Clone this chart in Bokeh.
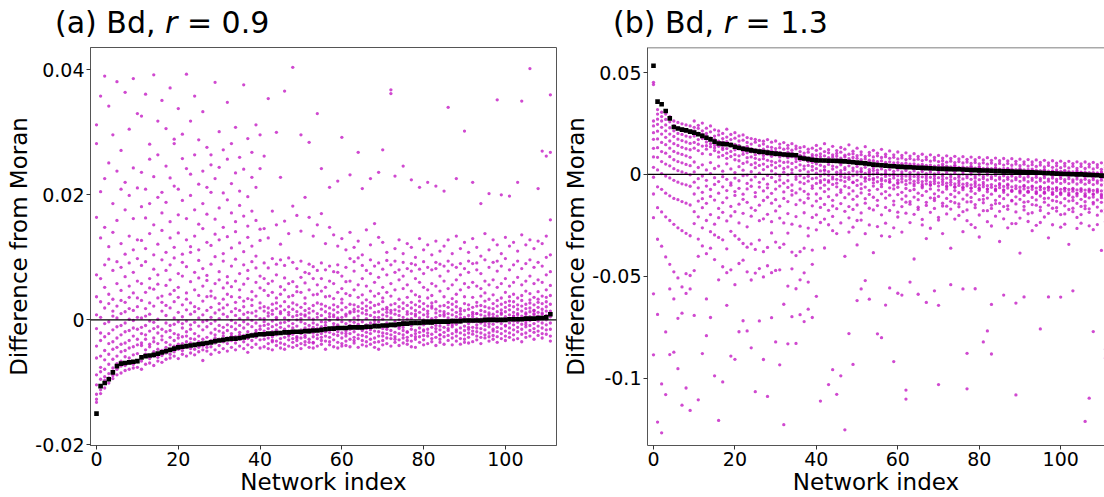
from bokeh.plotting import figure
from bokeh.layouts import row, column
from bokeh.models import ColumnDataSource, FixedTicker, Span, Range1d, Div
from bokeh.embed import file_html
from bokeh.resources import INLINE

FONT = "DejaVu Sans"
UNIT = 1e-4  # all values below are in units of 1e-4

network_ticks = [0, 20, 40, 60, 80, 100]
yticks_a = [-0.02, 0, 0.02, 0.04]
ylabels_a = ["-0.02", "0", "0.02", "0.04"]
yticks_b = [-0.1, -0.05, 0, 0.05]
ylabels_b = ["-0.1", "-0.05", "0", "0.05"]

# black squares: panel (a), r = 0.9
mean_a = [-150, -106, -101, -95, -84, -74, -70, -69, -68, -67, -66, -60, -58, -57, -56, -54,
          -52, -50, -48, -46, -44, -43, -42, -41, -40, -39, -38, -37, -36, -34, -33, -32,
          -31, -30, -30, -29, -28, -26, -25, -24, -23, -23, -22, -22, -21, -21, -20, -20,
          -19, -19, -19, -18, -18, -17, -17, -16, -15, -14, -14, -13, -13, -13, -12, -12,
          -12, -12, -11, -11, -10, -10, -9, -9, -8, -8, -7, -6, -6, -5, -5, -5,
          -4, -4, -4, -3, -3, -3, -3, -2, -2, -2, -1, -1, -1, -1, -1, 0,
          0, 0, 0, 0, 0, 1, 1, 1, 1, 2, 2, 2, 3, 3, 4, 9]

# black squares: panel (b), r = 1.3
mean_b = [533, 357, 344, 311, 275, 233, 225, 220, 216, 210, 205, 197, 189, 180, 172, 161,
          152, 150, 148, 144, 136, 131, 126, 122, 118, 115, 112, 110, 107, 104, 102, 100,
          98, 96, 95, 94, 82, 78, 75, 72, 69, 68, 68, 67, 67, 66, 65, 64,
          62, 60, 58, 56, 54, 51, 48, 46, 45, 43, 41, 40, 38, 37, 36, 35,
          34, 33, 32, 31, 30, 29, 28, 27, 27, 26, 25, 25, 24, 23, 22, 21,
          20, 19, 19, 18, 17, 16, 15, 15, 14, 13, 13, 12, 11, 10, 9, 8,
          7, 6, 5, 4, 3, 2, 2, 1, 0, 0, -1, -2, -3, -4, -6, -8]

# magenta points: individual runs per network, panel (a)
runs_a = [
    [-132, -127, -119, -104, -88, -61, -42, -14, 8, 37, 72, 164, 282, 312],
    [-118, -112, -95, -83, -76, -58, -33, -21, 4, 29, 66, 131, 205, 358],
    [-109, -97, -91, -79, -64, -49, -27, -6, 19, 52, 88, 148, 226, 390],
    [-101, -93, -86, -71, -55, -38, -22, -3, 26, 41, 97, 117, 251, 342],
    [-94, -89, -77, -63, -47, -35, -16, 6, 14, 33, 79, 140, 186, 296],
    [-88, -79, -70, -58, -44, -29, -11, 3, 22, 58, 93, 159, 238, 381],
    [-85, -74, -66, -51, -39, -24, -9, 10, 31, 47, 84, 122, 209, 271],
    [-81, -73, -59, -49, -37, -19, -5, 13, 28, 69, 105, 176, 220, 364],
    [-79, -69, -61, -45, -33, -17, 1, 18, 36, 54, 91, 134, 199, 305],
    [-77, -71, -56, -43, -26, -13, -1, 15, 43, 76, 112, 162, 243, 386],
    [-76, -67, -54, -40, -31, -15, 4, 21, 35, 62, 98, 128, 211, 330],
    [-79, -66, -41, -37, -22, 3, -12, 31, 58, 87, 127, 181, 236, 326],
    [-71, -55, -48, -24, -31, -9, 18, 6, 44, 93, 114, 163, 209, 361],
    [-62, -69, -39, -43, -18, -2, 27, 9, 66, 51, 138, 186, 257, 281],
    [-73, -51, -58, -29, -35, -14, 22, -4, 49, 81, 104, 152, 229, 392],
    [-60, -66, -47, -21, -38, 1, -11, 35, 72, 57, 121, 196, 264, 318],
    [-57, -49, -68, -32, -15, -26, 14, 38, 28, 96, 143, 171, 204, 351],
    [-63, -44, -53, -19, -36, 7, -5, 23, 55, 79, 108, 188, 246, 306],
    [-55, -61, -40, -28, -9, -17, 19, 41, 64, 88, 131, 157, 227, 371],
    [-51, -58, -33, -42, -22, 3, -7, 29, 47, 99, 116, 214, 282, 289],
    [-62, -47, -39, -24, -29, 12, -3, 36, 52, 74, 139, 168, 209, 338],
    [-49, -55, -27, -38, -13, 5, 24, -6, 70, 92, 105, 191, 258, 297],
    [-58, -44, -35, -19, -26, 16, -2, 43, 33, 85, 128, 162, 242, 393],
    [-46, -53, -30, -37, -8, 9, -15, 27, 61, 108, 117, 199, 233, 318],
    [-56, -41, -47, -22, -31, -4, 21, 13, 48, 76, 134, 176, 264, 358],
    [-44, -51, -26, -35, -10, 18, 3, 39, 67, 95, 112, 153, 217, 288],
    [-65, -42, -31, -48, -16, 8, -3, 30, 54, 82, 146, 186, 238, 333],
    [-50, -39, -28, -44, -11, 15, -1, 37, 71, 63, 124, 169, 212, 276],
    [-43, -55, -21, -33, -6, 20, 4, 46, 38, 89, 119, 204, 248, 264],
    [-48, -37, -29, -15, -24, 11, -2, 35, 58, 101, 137, 161, 226, 380],
    [-41, -52, -18, -31, 2, -9, 26, 16, 64, 77, 128, 179, 244, 301],
    [-46, -35, -26, -12, -21, 9, 33, 19, 51, 94, 106, 148, 203, 272],
    [-38, -50, -17, -29, 5, -8, 24, 41, 69, 59, 133, 192, 257, 348],
    [-44, -33, -22, -11, -26, 13, -1, 37, 53, 86, 115, 171, 218, 282],
    [-37, -48, -15, -27, 7, -5, 28, 18, 62, 97, 141, 157, 235, 308],
    [-42, -31, -20, -9, -24, 15, 2, 36, 48, 74, 123, 183, 206, 260],
    [-35, -46, -13, -25, 9, -3, 30, 21, 57, 88, 109, 166, 241, 376],
    [-52, -30, -19, -7, -40, 12, 3, 34, 66, 79, 132, 150, 197, 290],
    [-33, -44, -11, -23, 11, -1, 32, 23, 45, 93, 118, 174, 228, 268],
    [-39, -28, -17, -5, -21, 14, 6, 38, 60, 83, 102, 159, 212, 312],
    [-45, -32, -10, -24, 2, -15, 27, 19, 51, 70, 127, 145, 242, 296],
    [-43, -31, -18, -25, -9, 2, -3, 14, 21, 47, 66, 91, 146, 262],
    [-38, -46, -22, -14, -29, 6, -7, 19, 11, 39, 83, 58, 131, 354],
    [-48, -27, -35, -11, -19, -2, 9, 25, 15, 62, 44, 98, 174, -33],
    [-34, -41, -24, -16, 1, -8, 18, 27, 4, 35, 72, 89, 152, 300],
    [-45, -30, -20, -37, -5, -12, 10, 22, 13, 53, 41, 96, 121, 228],
    [-39, -28, -47, -15, -21, 3, -4, 16, 29, 48, 67, 87, 158, 366],
    [-42, -32, -26, -10, -18, 8, -1, 21, 12, 58, 37, 99, 138, -23],
    [-36, -44, -23, -30, -6, -13, 5, 17, 27, 39, 61, 92, 182, 404],
    [-41, -33, -19, -27, 0, -10, 13, 24, 7, 53, 82, 45, 167, -29],
    [-46, -29, -38, -16, -22, -3, 9, 2, 20, 44, 68, 94, 142, 296],
    [-35, -40, -25, -13, -28, 6, -6, 15, 26, 59, 35, 76, 196, 8],
    [-44, -31, -20, -36, -9, -15, 3, 18, 11, 48, 74, 89, 164, 284],
    [-37, -45, -27, -12, -21, 1, -5, 23, 14, 40, 66, 85, 134, -36],
    [-42, -30, -17, -24, -8, -14, 10, 4, 27, 56, 79, 41, 152, 330],
    [-33, -39, -22, -28, -3, -11, 7, 17, 25, 46, 66, 91, 170, 242],
    [-47, -34, -18, -26, -9, 2, -4, 13, 22, 52, 37, 80, 122, -19],
    [-40, -28, -35, -14, -20, 5, -1, 19, 10, 38, 62, 86, 148, 212],
    [-32, -43, -23, -16, -6, -11, 8, 24, 16, 58, 77, 34, 136, 5],
    [-45, -36, -25, -19, 1, -8, 12, 21, 3, 44, 76, 88, 118, 222],
    [-38, -29, -42, -13, -21, 4, -3, 16, 27, 50, 70, 33, 130, 292],
    [-34, -41, -18, -26, -6, -12, 9, 20, 6, 42, 61, 84, 112, -22],
    [-43, -31, -22, -15, -2, -9, 13, 25, 11, 62, 39, 98, 140, 232],
    [-37, -28, -19, -33, -10, 3, -4, 17, 24, 48, 78, 93, 116, 13],
    [-30, -44, -24, -14, -7, 6, 0, 21, 14, 56, 36, 99, 126, 268],
    [-40, -33, -17, -25, -3, -11, 11, 18, 27, 40, 66, 87, 104, 210],
    [-35, -27, -42, -20, -8, 2, 9, 22, 15, 54, 79, 32, 144, -14],
    [-31, -39, -22, -13, -5, -16, 7, 19, 28, 46, 74, 96, 120, 226],
    [-44, -29, -36, -18, -1, -9, 12, 23, 4, 60, 86, 38, 154, -6],
    [-47, -35, -26, -19, -11, -3, 4, 13, 25, 42, 68, 91, 132, 236],
    [-33, -26, -40, -14, -21, 1, 8, 17, 29, 52, 81, 35, 124, 272],
    [-38, -29, -22, -11, -5, -15, 6, 20, 12, 44, 72, 95, 108, 17],
    [-30, -42, -17, -24, -8, 3, 11, 24, 15, 58, 38, 88, 362, 368],
    [-36, -27, -20, -31, -2, -10, 9, 16, 26, 48, 76, 94, 114, 230],
    [-41, -32, -14, -22, 0, -7, 14, 21, 7, 64, 33, 80, 128, -11],
    [-29, -37, -24, -12, -17, 4, -3, 18, 27, 50, 70, 92, 106, 246],
    [-39, -28, -19, -33, -6, 9, 1, 23, 13, 56, 82, 36, 122, -20],
    [-34, -25, -43, -15, -9, 2, 10, 19, 28, 46, 78, 90, 116, 224],
    [-44, -31, -22, -17, -27, -3, 6, 15, 24, 40, 66, 88, 100, 9],
    [-27, -36, -13, -20, -4, 3, 12, 21, 30, 60, 37, 81, 130, 212],
    [-32, -40, -18, -25, -8, 0, 8, 17, 26, 52, 74, 93, 112, -16],
    [-38, -26, -15, -21, -2, 5, 14, 10, 22, 48, 84, 35, 120, 220],
    [-30, -35, -23, -12, -6, 2, -1, 19, 27, 58, 39, 80, 104, 22],
    [-41, -28, -19, -9, -14, 4, 11, 17, 29, 54, 82, 92, 126, 214],
    [-36, -24, -31, -16, -5, -10, 7, 14, 22, 46, 70, 89, 110, -24],
    [-27, -39, -20, -12, -2, 6, 13, 23, 9, 62, 37, 86, 118, 206],
    [-33, -25, -17, -8, -14, 3, 10, 20, 28, 50, 78, 94, 128, 340],
    [-40, -29, -22, -11, 0, -4, 8, 16, 25, 56, 34, 88, 106, -8],
    [-26, -34, -16, -7, -19, 5, 12, 21, 29, 64, 84, 41, 134, 226],
    [-39, -30, -21, -13, -4, 2, 9, 18, 14, 48, 72, 90, 114, 3],
    [-31, -24, -36, -10, -17, 4, -1, 15, 26, 58, 82, 37, 124, 302],
    [-28, -37, -15, -21, -6, 7, 1, 17, 24, 52, 76, 94, 108, -12],
    [-35, -23, -12, -18, -3, 5, 12, 20, 9, 60, 36, 90, 130, 220],
    [-26, -32, -19, -8, -13, 2, 10, 22, 28, 54, 80, 91, 116, 10],
    [-38, -28, -21, -14, -5, 1, 8, 15, 23, 50, 74, 38, 102, 186],
    [-29, -24, -16, -9, -2, 6, 13, 21, 30, 62, 96, 43, 138, -4],
    [-34, -21, -27, -11, -6, 3, 11, 19, 8, 56, 84, 33, 112, 202],
    [-25, -31, -15, -7, -1, 9, 4, 18, 26, 64, 92, 40, 128, -18],
    [-36, -27, -19, -12, -3, 6, 13, 22, 31, 52, 78, 94, 120, 352],
    [-22, -30, -14, -6, 1, 9, 16, 11, 25, 58, 35, 86, 106, 200],
    [-33, -26, -18, -9, -1, 5, 13, 20, 28, 66, 98, 44, 132, -10],
    [-28, -21, -13, -5, 2, 8, 16, 23, 30, 54, 80, 37, 118, 198],
    [-24, -32, -16, -8, -2, 6, 12, 21, 29, 60, 88, 41, 124, 6],
    [-30, -19, -12, -4, 3, 10, 17, 24, 8, 68, 94, 35, 110, 220],
    [-35, -23, -15, -7, 0, 6, 14, 22, 31, 56, 82, 39, 136, 350],
    [-21, -28, -11, -3, 4, 11, 18, 25, 9, 62, 90, 46, 120, -7],
    [-26, -17, -9, -1, 5, 13, 19, 27, 32, 70, 96, 42, 128, 402],
    [-31, -20, -14, -6, 1, 8, 15, 24, 10, 58, 84, 36, 114, 15],
    [-18, -25, -10, -2, 6, 12, 20, 28, 33, 64, 92, 45, 126, 210],
    [-29, -22, -13, -5, 2, 9, 17, 26, 11, 60, 86, 38, 122, 270],
    [-23, -16, -8, 0, 7, 14, 21, 29, 36, 72, 100, 48, 134, 262],
    [-34, -26, -15, -5, 5, 14, 25, 39, 55, 77, 104, 160, 268, 360],
]

# magenta points: individual runs per network, panel (b)
runs_b = [
    [452, 441, 262, 238, 205, 172, 128, 86, 35, -14, -96, -212, -586, -885],
    [318, 296, 271, 246, 212, 174, 131, 84, 22, -61, -163, -318, -687, -1215],
    [305, 284, 262, 231, 198, 157, 112, 63, 4, -73, -184, -352, -1028, -1268],
    [296, 270, 243, 214, 182, 146, 104, 51, -8, -92, -208, -405, -773, -1080],
    [284, 258, 229, 198, 164, 129, 87, 42, -17, -105, -226, -441, -562, -884],
    [262, 239, 214, 186, 151, 113, 72, 28, -29, -118, -245, -478, -611, -872],
    [255, 228, 201, 173, 142, 104, 63, 19, -38, -124, -262, -508, -706, -953],
    [248, 222, 196, 166, 133, 98, 57, 12, -46, -133, -276, -552, -681, -1132],
    [243, 214, 188, 159, 126, 91, 49, 5, -51, -141, -289, -487, -584, -1048],
    [238, 209, 183, 152, 121, 84, 43, -2, -58, -150, -301, -496, -562, -1158],
    [262, 231, 214, 188, 157, 129, 61, 12, -38, -96, -183, -241, -472, -692],
    [241, 226, 203, 171, 148, 117, 34, -21, -66, -131, -208, -317, -402, -1106],
    [252, 214, 196, 176, 139, 102, 47, -8, -88, -119, -163, -262, -351, -879],
    [227, 201, 188, 159, 124, 141, 22, -29, -57, -142, -226, -389, -611, -791],
    [238, 209, 179, 151, 136, 98, 58, 4, -74, -108, -197, -281, -362, -702],
    [219, 188, 172, 144, 117, 131, 29, -16, -49, -126, -244, -297, -418, -988],
    [213, 194, 163, 138, 109, 86, 41, -35, -92, -167, -212, -309, -517, -1207],
    [201, 176, 158, 131, 122, 93, 16, -11, -61, -138, -186, -321, -453, -1018],
    [222, 183, 161, 127, 104, 79, 52, -24, -79, -115, -228, -365, -482, -642],
    [196, 171, 150, 139, 113, 88, 27, -42, -53, -157, -204, -279, -468, -891],
    [205, 178, 147, 121, 97, 72, 9, -18, -84, -103, -183, -301, -541, -907],
    [189, 164, 142, 125, 91, 67, 38, -31, -68, -146, -238, -318, -437, -772],
    [194, 168, 133, 114, 99, 54, 21, -6, -97, -122, -191, -339, -421, -718],
    [181, 157, 138, 106, 82, 61, -3, -44, -71, -137, -257, -357, -478, -768],
    [176, 149, 127, 111, 86, 48, 13, -27, -58, -164, -205, -341, -518, -851],
    [172, 158, 122, 97, 79, 56, 33, -12, -89, -109, -176, -368, -484, -1066],
    [167, 141, 119, 102, 73, 44, 6, -39, -62, -151, -227, -322, -462, -719],
    [163, 149, 124, 93, 77, 51, 24, -22, -81, -128, -218, -379, -503, -908],
    [171, 136, 115, 98, 69, 38, -5, -48, -66, -112, -196, -358, -448, -1089],
    [158, 133, 117, 89, 64, 46, 17, -15, -93, -141, -232, -287, -482, -703],
    [164, 127, 112, 95, 58, 33, 2, -36, -72, -124, -179, -332, -471, -822],
    [149, 131, 108, 86, 66, 42, -8, -27, -57, -156, -214, -359, -468, -934],
    [156, 124, 103, 91, 59, 29, 11, -43, -86, -118, -238, -342, -637, -1228],
    [143, 128, 109, 82, 61, 37, -2, -31, -64, -133, -192, -288, -548, -831],
    [151, 119, 104, 87, 54, 24, 7, -52, -79, -101, -244, -381, -463, -698],
    [139, 126, 98, 78, 63, 35, -11, -24, -91, -148, -207, -398, -561, -829],
    [131, 112, 93, 69, 47, 19, -6, -38, -71, -126, -254, -379, -517, -688],
    [136, 104, 88, 72, 41, 26, -17, -45, -83, -139, -188, -362, -483, -722],
    [124, 109, 81, 63, 44, 12, -9, -33, -97, -117, -263, -302, -528, -661],
    [129, 97, 86, 58, 39, 21, -21, -56, -68, -154, -211, -371, -441, -702],
    [142, 118, 94, 77, 52, 28, 6, -17, -44, -96, -131, -198, -272, -598],
    [127, 101, 87, 73, 45, 17, -8, -31, -67, -118, -162, -236, -40, -1112],
    [151, 112, 91, 64, 38, 22, 2, -26, -53, -84, -147, -219, -361, 20],
    [121, 106, 82, 71, 49, 14, -4, -38, -72, -109, -176, -247, -31, -1031],
    [138, 96, 85, 62, 41, 26, -12, -22, -49, -127, -155, -206, -276, -958],
    [117, 103, 90, 75, 36, 11, -1, -43, -61, -101, -168, -290, -24, -1079],
    [132, 109, 80, 57, 47, 19, -9, -28, -76, -88, -143, -238, 6, -988],
    [124, 94, 86, 69, 33, 24, 3, -35, -58, -114, -181, -402, -15, -1253],
    [145, 99, 77, 60, 42, 9, -14, -24, -65, -96, -158, -213, -283, -781],
    [114, 101, 83, 66, 31, 18, -6, -40, -81, -122, -172, -259, -38, -932],
    [129, 92, 79, 54, 39, 12, -2, -29, -54, -107, -150, -226, -346, -619],
    [111, 97, 73, 63, 28, 16, -11, -47, -70, -91, -189, -224, 13, -562],
    [136, 88, 76, 51, 35, 5, -16, -33, -62, -119, -141, -291, -20, -521],
    [108, 94, 70, 58, 24, 14, -7, -25, -78, -98, -166, -248, 8, -612],
    [118, 86, 67, 44, 31, 2, -19, -42, -57, -112, -174, -384, -26, 19],
    [104, 91, 63, 52, 21, 8, -13, -36, -73, -127, -153, -256, 5, -782],
    [123, 83, 66, 41, 27, -1, -21, -48, -60, -95, -198, -301, -30, -801],
    [99, 87, 59, 49, 18, 6, -10, -31, -84, -116, -162, -239, 0, -641],
    [115, 79, 62, 38, 24, -4, -25, -39, -66, -102, -177, -305, -35, -557],
    [96, 84, 56, 46, 15, 3, -17, -53, -71, -131, -149, -262, -4, -918],
    [110, 76, 58, 34, 22, -6, -28, -44, -63, -99, -185, -209, -40, -583],
    [93, 81, 53, 43, 12, 1, -22, -37, -88, -121, -158, -283, -9, -592],
    [106, 73, 55, 31, 19, -8, -31, -49, -69, -106, -190, -136, -1058, -1102],
    [90, 78, 50, 40, 9, -2, -24, -42, -79, -134, -146, -236, -12, -528],
    [102, 71, 52, 28, 17, -10, -33, -55, -74, -111, -196, -415, -46, 40],
    [88, 75, 47, 37, 7, -4, -27, -40, -92, -124, -161, -172, -15, -588],
    [99, 68, 49, 25, 14, -12, -35, -58, -66, -103, -221, -248, -49, 37],
    [85, 73, 44, 34, 4, -6, -30, -46, -83, -137, -152, -315, -18, -628],
    [96, 65, 46, 22, 11, -14, -38, -52, -71, -115, -186, -264, -52, 33],
    [83, 70, 41, 31, 2, -8, -33, -45, -95, -128, -167, -117, -21, -571],
    [93, 63, 43, 19, 9, -16, -41, -57, -77, -108, -211, -224, -642, -1031],
    [80, 67, 39, 28, 0, -10, -36, -49, -87, -141, -155, -290, -24, 50],
    [91, 60, 41, 17, 6, -18, -43, -61, -72, -118, -194, -156, -57, 29],
    [78, 65, 37, 26, -2, -12, -39, -51, -98, -132, -170, -362, -27, -541],
    [89, 58, 39, 15, 4, -20, -46, -63, -79, -110, -219, -139, -60, 45],
    [76, 63, 35, 24, -4, -14, -41, -54, -90, -145, -159, -201, -30, 27],
    [87, 56, 37, 13, 2, -22, -48, -66, -75, -121, -183, -281, -63, -562],
    [74, 61, 33, 22, -6, -16, -44, -56, -101, -135, -174, -227, -878, -1052],
    [85, 54, 35, 11, 0, -24, -51, -68, -82, -113, -246, -134, -66, 40],
    [72, 59, 31, 20, -8, -18, -46, -59, -94, -148, -163, -261, -36, -561],
    [83, 52, 33, 9, -2, -26, -53, -70, -78, -124, -199, -307, -69, 38],
    [71, 57, 29, 18, -10, -20, -49, -61, -104, -139, -178, -122, -39, -822],
    [82, 50, 32, 8, -3, -27, -55, -72, -85, -116, -232, -178, -72, -768],
    [69, 56, 28, 17, -11, -21, -50, -63, -97, -151, -167, -253, -638, -881],
    [80, 48, 30, 6, -5, -29, -57, -74, -80, -127, -205, -143, -75, 33],
    [67, 54, 26, 15, -13, -23, -52, -65, -107, -142, -181, -329, -45, 22],
    [78, 46, 28, 4, -7, -31, -59, -76, -88, -119, -158, -218, -78, -592],
    [66, 53, 25, 14, -14, -24, -54, -67, -100, -154, -171, -262, -48, 30],
    [77, 45, 27, 3, -8, -32, -61, -78, -83, -130, -241, -127, -81, 20],
    [64, 51, 23, 12, -16, -26, -56, -69, -110, -145, -184, -241, -631, -1082],
    [75, 43, 25, 1, -10, -34, -63, -80, -91, -122, -214, -386, -84, 28],
    [62, 50, 22, 11, -17, -27, -58, -71, -103, -157, -174, -136, -54, -601],
    [73, 41, 23, -1, -12, -36, -65, -82, -86, -133, -193, -231, -87, 17],
    [61, 48, 20, 9, -19, -29, -60, -73, -113, -148, -188, -276, -57, 26],
    [71, 39, 21, -3, -14, -38, -67, -84, -94, -125, -250, -151, -90, 15],
    [59, 46, 18, 7, -21, -31, -62, -75, -106, -160, -177, -236, -60, -758],
    [69, 37, 19, -5, -16, -40, -69, -86, -89, -136, -209, -118, -93, 24],
    [57, 44, 16, 5, -23, -33, -64, -77, -116, -151, -191, -311, -63, -601],
    [67, 35, 17, -7, -18, -42, -71, -88, -97, -128, -166, -247, -96, 13],
    [55, 42, 14, 3, -25, -35, -66, -79, -109, -163, -180, -132, -66, 22],
    [65, 33, 15, -9, -20, -44, -73, -90, -92, -139, -259, -197, -99, -602],
    [54, 41, 13, 2, -26, -36, -68, -81, -119, -154, -194, -244, -69, 20],
    [64, 32, 14, -10, -21, -45, -74, -91, -100, -131, -172, -343, -102, 9],
    [53, 40, 12, 1, -27, -37, -69, -82, -112, -166, -183, -128, -72, -571],
    [62, 30, 12, -12, -23, -47, -76, -93, -95, -142, -265, -211, -105, 18],
    [52, 39, 11, 0, -28, -38, -70, -83, -122, -157, -197, -239, -75, 7],
    [61, 29, 11, -13, -24, -48, -77, -94, -103, -134, -168, -154, -108, -1212],
    [50, 37, 9, -2, -30, -40, -72, -85, -115, -169, -186, -252, -78, -1098],
    [59, 27, 9, -15, -26, -50, -79, -96, -98, -145, -271, -137, -111, -771],
    [48, 35, 7, -4, -32, -42, -74, -87, -125, -160, -200, -246, -81, 4],
    [57, 25, 7, -17, -28, -52, -81, -98, -106, -137, -179, -373, -114, 12],
    [46, 33, 5, -6, -34, -44, -76, -89, -118, -172, -189, -232, -858, -902],
]


def runs_source(runs):
    xs, ys = [], []
    for i, vals in enumerate(runs):
        for v in vals:
            xs.append(i)
            ys.append(v * UNIT)
    return ColumnDataSource(dict(x=xs, y=ys))


def means_source(means):
    return ColumnDataSource(dict(x=list(range(len(means))), y=[m * UNIT for m in means]))


def make_panel(width, border_left, frame_w, x_end, y_range, yticks, ylabels, runs, means, full_box):
    p = figure(width=width, height=450, x_range=Range1d(-1.47, x_end), y_range=Range1d(*y_range),
               output_backend="svg", toolbar_location=None,
               min_border_left=border_left, min_border_right=width - border_left - frame_w,
               min_border_top=0, min_border_bottom=52)
    p.background_fill_color = "white"
    p.border_fill_color = "white"
    p.xgrid.visible = False
    p.ygrid.visible = False

    for ax in (p.xaxis[0], p.yaxis[0]):
        ax.major_label_text_font = FONT
        ax.major_label_text_font_size = "19px"
        ax.major_label_text_color = "black"
        ax.axis_label_text_font = FONT
        ax.axis_label_text_font_size = "23px"
        ax.axis_label_text_font_style = "normal"
        ax.axis_label_text_color = "black"
        ax.minor_tick_line_color = None
        ax.major_tick_in = 0
        ax.major_tick_out = 4
        ax.major_tick_line_color = "#333333"
        ax.axis_line_color = "#555555"
        ax.major_label_standoff = 2
        ax.axis_label_standoff = 0

    p.xaxis.ticker = FixedTicker(ticks=network_ticks)
    p.xaxis.axis_label = "Network index"
    p.yaxis.ticker = FixedTicker(ticks=yticks)
    p.yaxis.major_label_overrides = {t: l for t, l in zip(yticks, ylabels)}
    p.yaxis.axis_label = "Difference from Moran"

    if full_box:
        p.outline_line_color = "#555555"
    else:
        # right edge of this panel lies beyond the picture: draw only the top border
        p.outline_line_color = None
        p.add_layout(Span(location=y_range[1], dimension="width", line_color="#555555",
                          line_width=1.5))

    p.scatter(x="x", y="y", source=runs_source(runs), marker="circle", size=3.3,
              fill_color="#c41cc4", fill_alpha=0.8, line_color=None)
    p.add_layout(Span(location=0, dimension="width", line_color="black", line_width=1.3))
    p.scatter(x="x", y="y", source=means_source(means), marker="square", size=4.6,
              fill_color="black", line_color=None)
    return p


def title_div(width, left, letter, value):
    html = (f'<div style="font-family:\'DejaVu Sans\';font-size:30px;line-height:30px;'
            f'padding-top:8px;padding-left:{left}px;color:black;white-space:nowrap;">'
            f'({letter}) Bd, <i>r</i> = {value}</div>')
    return Div(text=html, width=width, height=47, margin=(0, 0, 0, 0))


pa = make_panel(560, 90, 466, 112.5, (-0.0201, 0.04357), yticks_a, ylabels_a, runs_a, mean_a, True)
pb = make_panel(544, 86, 458, 110.76, (-0.133, 0.06227), yticks_b, ylabels_b, runs_b, mean_b, False)

layout = row(column(title_div(560, 55, "a", "0.9"), pa, spacing=0),
             column(title_div(544, 53, "b", "1.3"), pb, spacing=0), spacing=0)
open("out.html", "w").write(file_html(layout, INLINE))
